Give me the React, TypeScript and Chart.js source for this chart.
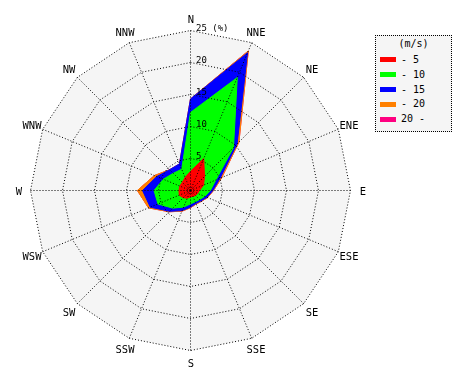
import React, { useEffect, useRef } from "react";
import { Chart, registerables } from "chart.js";

Chart.register(...registerables);

// Wind directions (clockwise from north)
const directions = ["N", "NNE", "NE", "ENE", "E", "ESE", "SE", "SSE", "S", "SSW", "SW", "WSW", "W", "WNW", "NW", "NNW"];

// Wind speed classes (m/s)
const speedClasses = ["- 5", "- 10", "- 15", "- 20", "20 -"];

// Frequency (%) per direction for each speed class
const speed0to5 = [3.0, 5.4, 3.1, 2.2, 1.4, 1.2, 1.1, 1.0, 1.0, 1.3, 1.6, 1.9, 1.8, 1.8, 1.8, 2.2];
const speed5to10 = [9.2, 13.7, 6.4, 2.1, 1.7, 1.2, 0.9, 0.9, 1.1, 1.5, 2.3, 3.6, 3.9, 2.8, 2.0, 1.4];
const speed10to15 = [2.1, 4.2, 0.8, 0.7, 0.4, 0.4, 0.3, 0.3, 0.5, 0.6, 0.7, 1.3, 1.8, 1.1, 0.8, 0.9];
const speed15to20 = [0.0, 0.3, 0.4, 0.3, 0.1, 0.1, 0.1, 0.1, 0.1, 0.1, 0.1, 0.3, 0.8, 0.4, 0.0, 0.0];
const speed20plus = [0, 0, 0, 0, 0, 0, 0, 0, 0, 0, 0, 0, 0, 0, 0, 0];

const classColors = ["#ff0000", "#00ff00", "#0000ff", "#ff8000", "#ff0080"];

// Radial axis
const radialTicks = [5, 10, 15, 20, 25];
const radialMax = 25;
const radialUnit = "(%)";

const MONO = '"DejaVu Sans Mono", monospace';

const roseDecor = {
  id: "roseDecor",
  beforeDatasetsDraw(chart: any) {
    const scale = chart.scales.r;
    const ctx = chart.ctx;
    ctx.save();
    ctx.fillStyle = "#f5f5f5";
    ctx.beginPath();
    directions.forEach((_, i) => {
      const p = scale.getPointPosition(i, scale.drawingArea);
      if (i === 0) ctx.moveTo(p.x, p.y);
      else ctx.lineTo(p.x, p.y);
    });
    ctx.closePath();
    ctx.fill();
    ctx.restore();
  },
  afterDraw(chart: any) {
    const scale = chart.scales.r;
    const ctx = chart.ctx;
    ctx.save();
    ctx.fillStyle = "#000";
    ctx.font = `10.5px ${MONO}`;
    ctx.textAlign = "center";
    ctx.textBaseline = "alphabetic";
    directions.forEach((d, i) => {
      const p = scale.getPointPosition(i, scale.drawingArea + 12);
      ctx.fillText(d, Math.round(p.x), Math.round(p.y + 4));
    });
    ctx.font = `9px ${MONO}`;
    ctx.textAlign = "left";
    radialTicks.forEach((v, k) => {
      const r = scale.getDistanceFromCenterForValue(v);
      const label = k === radialTicks.length - 1 ? `${v} ${radialUnit}` : String(v);
      ctx.fillText(label, Math.round(scale.xCenter + 5), Math.round(scale.yCenter - r));
    });
    ctx.restore();
  },
};

export default function App() {
  const canvasRef = useRef<HTMLCanvasElement | null>(null);

  useEffect(() => {
    if (!canvasRef.current) return;
    const classes = [speed0to5, speed5to10, speed10to15, speed15to20, speed20plus];
    const cumulative = classes.map((_, k) =>
      directions.map((__, i) => classes.slice(0, k + 1).reduce((s, arr) => s + arr[i], 0))
    );
    const chart = new Chart(canvasRef.current, {
      type: "radar",
      data: {
        labels: directions,
        datasets: cumulative.map((data, k) => ({
          label: speedClasses[k],
          data,
          backgroundColor: classColors[k],
          borderColor: classColors[k],
          borderWidth: 1,
          fill: "origin",
          pointRadius: 0,
          pointHoverRadius: 0,
          tension: 0,
        })),
      },
      options: {
        responsive: false,
        animation: false,
        layout: { padding: { left: 30, top: 30, right: 120, bottom: 30 } },
        plugins: {
          legend: { display: false },
          tooltip: { enabled: false },
          title: { display: false },
        },
        scales: {
          r: {
            min: 0,
            max: radialMax,
            ticks: { stepSize: 5, display: false },
            pointLabels: { display: false },
            grid: { color: "#000", lineWidth: 1, circular: false, z: 1 },
            border: { dash: [1, 2] },
            angleLines: { color: "#000", lineWidth: 1, borderDash: [1, 2] },
            afterFit: (s: any) => {
              s.xCenter += 0.5;
              s.yCenter += 0.5;
            },
          },
        },
      },
      plugins: [roseDecor],
    } as any);
    return () => chart.destroy();
  }, []);

  return (
    <div style={{ position: "absolute", left: 0, top: 0, width: 470, height: 380, background: "#fff" }}>
      <canvas ref={canvasRef} width={470} height={380} style={{ display: "block" }} />
      <div
        style={{
          position: "absolute",
          left: 375,
          top: 35,
          width: 77,
          height: 97,
          boxSizing: "border-box",
          border: "1px dotted #000",
          background: "#f5f5f5",
          fontFamily: MONO,
          fontSize: 10,
          color: "#000",
        }}
      >
        <div style={{ position: "absolute", left: 0, right: 0, top: 2, textAlign: "center", lineHeight: "12px" }}>
          (m/s)
        </div>
        {speedClasses.map((s, i) => (
          <div
            key={s}
            style={{
              position: "absolute",
              left: 4,
              top: 16.6 + i * 14.8,
              height: 14.8,
              display: "flex",
              alignItems: "center",
            }}
          >
            <span style={{ display: "inline-block", width: 16, height: 5, background: classColors[i], marginRight: 5 }} />
            <span style={{ whiteSpace: "pre", lineHeight: "12px" }}>{s}</span>
          </div>
        ))}
      </div>
    </div>
  );
}
